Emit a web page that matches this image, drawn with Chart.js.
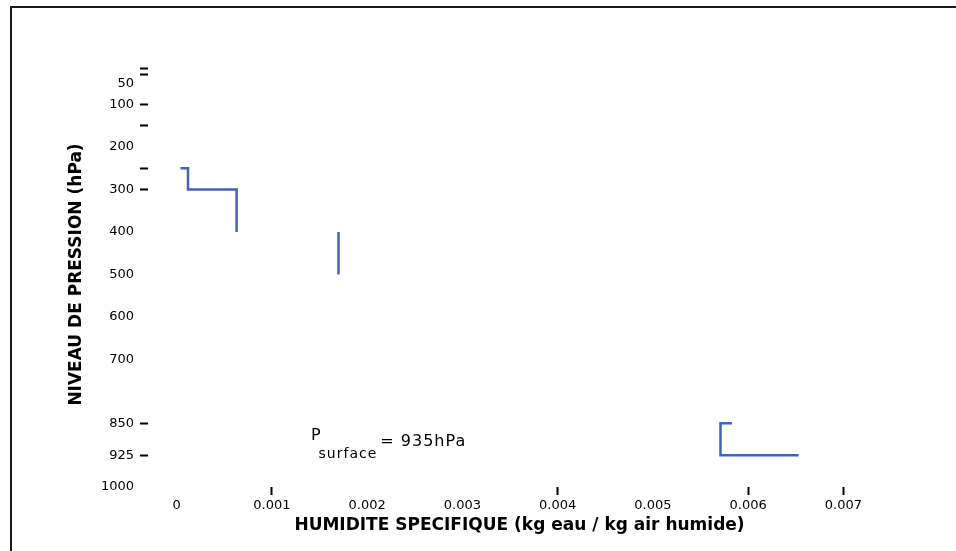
<!DOCTYPE html>
<html>
<head>
<meta charset="utf-8">
<script src="https://cdn.jsdelivr.net/npm/chart.js@4.4.1/dist/chart.umd.min.js"></script>
<style>
  html, body { margin: 0; padding: 0; background: #fff; overflow: hidden; }
  #wrap  { position: relative; width: 956px; height: 551px; }
  #frame { position: absolute; left: 10px; top: 6px; width: 1000px; height: 1000px;
           border-top: 2px solid #1a1a1a; border-left: 2px solid #1a1a1a; }
  #chart { position: absolute; left: 0; top: 0; }
</style>
</head>
<body>
<div id="wrap">
  <div id="frame"></div>
  <canvas id="chart" width="956" height="551"></canvas>
</div>
<script>
// ---- data ----
// segment 1 (upper layers)
const seg1Humid = [0.00004, 0.00012, 0.00012, 0.00063, 0.00063];
const seg1Pres  = [250, 250, 300, 300, 400];
// segment 2
const seg2Humid = [0.00170, 0.00170];
const seg2Pres  = [400, 500];
// segment 3 (near surface)
const seg3Humid = [0.00583, 0.00571, 0.00571, 0.00653];
const seg3Pres  = [850, 850, 925, 925];

// ---- axes ----
const xTickValues = [0, 0.001, 0.002, 0.003, 0.004, 0.005, 0.006, 0.007];
const xTickLabels = ['0', '0.001', '0.002', '0.003', '0.004', '0.005', '0.006', '0.007'];
const xMarkValues = [0.001, 0.004, 0.006, 0.007];

const yTickValues = [15, 30, 50, 100, 150, 200, 250, 300, 400, 500, 600, 700, 850, 925, 1000];
const yLabelValues = [50, 100, 200, 300, 400, 500, 600, 700, 850, 925, 1000];
const yMarkValues = [15, 30, 100, 150, 250, 300, 850, 925];

const surfaceText = ['P', 'surface', '= 935hPa'];
const surfaceAt   = { x: 0.00141, y: 889 };

const LINE_COLOR = '#4462b8';
const FONT = 'DejaVu Sans';

function pts(xs, ys) {
  return xs.map((x, i) => ({ x: x, y: ys[i] }));
}
function seg(xs, ys) {
  return { data: pts(xs, ys), showLine: true, borderColor: LINE_COLOR, borderWidth: 2.5,
           pointRadius: 0, fill: false, tension: 0, borderCapStyle: 'butt', borderJoinStyle: 'miter' };
}
const near = (a, b) => Math.abs(a - b) < 1e-9;

const surfaceLabel = {
  id: 'surfaceLabel',
  afterDatasetsDraw(chart) {
    const c = chart.ctx;
    const x0 = chart.scales.x.getPixelForValue(surfaceAt.x);
    const y0 = chart.scales.y.getPixelForValue(surfaceAt.y);
    c.save();
    c.fillStyle = '#000';
    c.textBaseline = 'alphabetic';
    c.letterSpacing = '1px';
    c.font = '16px "' + FONT + '"';
    c.fillText(surfaceText[0], x0, y0);
    let x = x0 + c.measureText(surfaceText[0]).width - 3;
    c.font = '14px "' + FONT + '"';
    c.fillText(surfaceText[1], x, y0 + 18);
    x += c.measureText(surfaceText[1]).width + 3;
    c.font = '16px "' + FONT + '"';
    c.fillText(surfaceText[2], x, y0 + 6);
    c.restore();
  }
};

new Chart(document.getElementById('chart'), {
  type: 'scatter',
  data: {
    datasets: [ seg(seg1Humid, seg1Pres), seg(seg2Humid, seg2Pres), seg(seg3Humid, seg3Pres) ]
  },
  options: {
    responsive: false,
    animation: false,
    layout: { padding: { top: 62, right: 65, bottom: 0, left: 0 } },
    plugins: { legend: { display: false }, tooltip: { enabled: false } },
    scales: {
      x: {
        type: 'linear',
        min: -0.0003, max: 0.0075,
        afterBuildTicks: s => { s.ticks = xTickValues.map(v => ({ value: v })); },
        afterFit: s => { s.height = 64; },
        border: { display: false },
        grid: {
          drawOnChartArea: false, drawTicks: true, tickLength: 8, tickWidth: 2,
          tickColor: ctx => (ctx.tick && xMarkValues.some(v => near(v, ctx.tick.value))) ? '#000' : 'rgba(0,0,0,0)'
        },
        ticks: {
          padding: 3, color: '#000', maxRotation: 0, autoSkip: false,
          font: { family: FONT, size: 13 },
          callback: v => {
            const i = xTickValues.findIndex(t => near(t, v));
            return i >= 0 ? xTickLabels[i] : '';
          }
        },
        title: {
          display: true, text: 'HUMIDITE SPECIFIQUE (kg eau / kg air humide)', color: '#000',
          font: { family: FONT, size: 17, weight: 'bold' },
          padding: { top: 0, bottom: 15 }
        }
      },
      y: {
        type: 'linear',
        reverse: true,
        min: 0, max: 1000,
        afterBuildTicks: s => { s.ticks = yTickValues.map(v => ({ value: v })); },
        afterFit: s => { s.width = 148; },
        border: { display: false },
        grid: {
          drawOnChartArea: false, drawTicks: true, tickLength: 8, tickWidth: 2,
          tickColor: ctx => (ctx.tick && yMarkValues.includes(ctx.tick.value)) ? '#000' : 'rgba(0,0,0,0)'
        },
        ticks: {
          padding: 6, color: '#000', autoSkip: false,
          font: { family: FONT, size: 13 },
          callback: v => yLabelValues.includes(v) ? String(v) : ''
        },
        title: {
          display: true, text: 'NIVEAU DE PRESSION (hPa)', color: '#000',
          font: { family: FONT, size: 17, weight: 'bold' },
          padding: { top: 66, bottom: 0 }
        }
      }
    }
  },
  plugins: [surfaceLabel]
});
</script>
</body>
</html>
